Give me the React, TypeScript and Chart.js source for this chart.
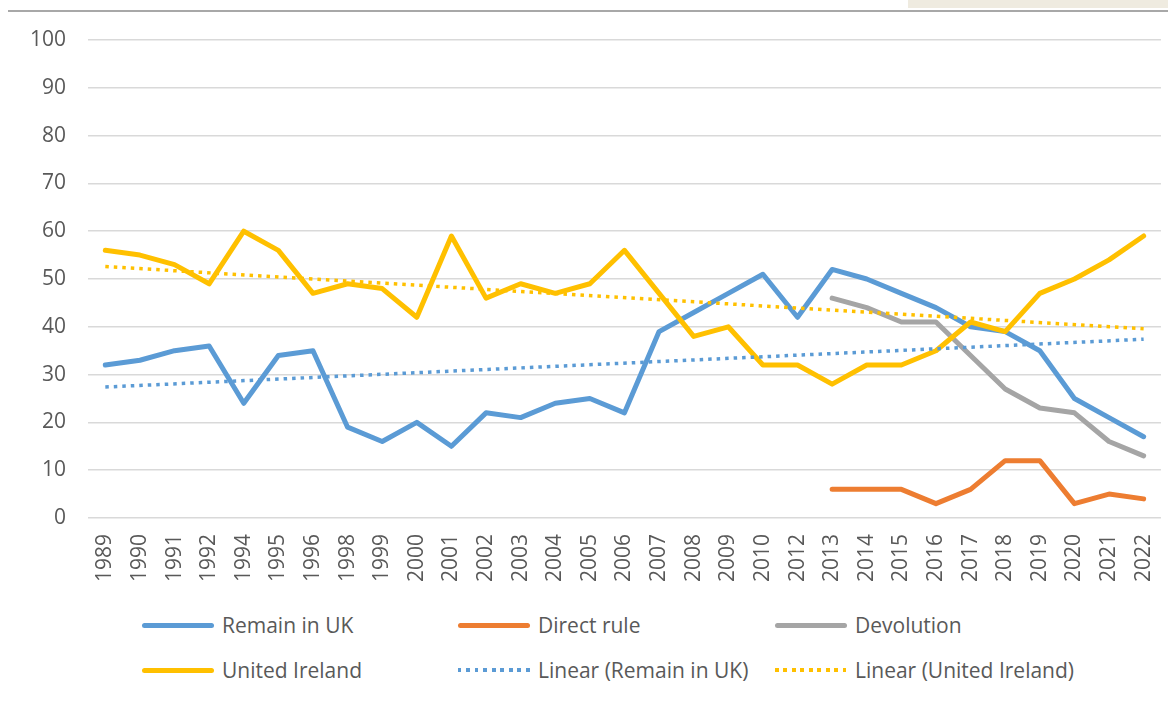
import React, { useEffect, useRef } from "react";
import { Chart, registerables } from "chart.js";

Chart.register(...registerables);

const years = [
  "1989", "1990", "1991", "1992", "1994", "1995", "1996", "1998", "1999", "2000",
  "2001", "2002", "2003", "2004", "2005", "2006", "2007", "2008", "2009", "2010",
  "2012", "2013", "2014", "2015", "2016", "2017", "2018", "2019", "2020", "2021", "2022",
];

const remainInUK = [
  32, 33, 35, 36, 24, 34, 35, 19, 16, 20,
  15, 22, 21, 24, 25, 22, 39, 43, 47, 51,
  42, 52, 50, 47, 44, 40, 39, 35, 25, 21, 17,
];

const unitedIreland = [
  56, 55, 53, 49, 60, 56, 47, 49, 48, 42,
  59, 46, 49, 47, 49, 56, 47, 38, 40, 32,
  32, 28, 32, 32, 35, 41, 39, 47, 50, 54, 59,
];

// 2013 - 2022 only
const directRuleYears = ["2013", "2014", "2015", "2016", "2017", "2018", "2019", "2020", "2021", "2022"];
const directRule = [6, 6, 6, 3, 6, 12, 12, 3, 5, 4];
const devolution = [46, 44, 41, 41, 34, 27, 23, 22, 16, 13];

// trend line end points
const trendRemain = [27.4, 37.4];
const trendIreland = [52.6, 39.6];

const yTicks = [0, 10, 20, 30, 40, 50, 60, 70, 80, 90, 100];

const BLUE = "#5b9bd5";
const ORANGE = "#ed7d31";
const GRAY = "#a5a5a5";
const YELLOW = "#ffc000";
const TEXT = "#595959";
const FONT = "'Open Sans', sans-serif";

function alignLate(vals: number[]): (number | null)[] {
  return years.map((y) => {
    const i = directRuleYears.indexOf(y);
    return i >= 0 ? vals[i] : null;
  });
}

function endPoints(pair: number[]): (number | null)[] {
  return years.map((_, i) => (i === 0 ? pair[0] : i === years.length - 1 ? pair[1] : null));
}

const legendItems = [
  { label: "Remain in UK", color: BLUE, dotted: false, x: 142, y: 625 },
  { label: "Direct rule", color: ORANGE, dotted: false, x: 458, y: 625 },
  { label: "Devolution", color: GRAY, dotted: false, x: 775, y: 625 },
  { label: "United Ireland", color: YELLOW, dotted: false, x: 142, y: 670 },
  { label: "Linear (Remain in UK)", color: BLUE, dotted: true, x: 458, y: 670 },
  { label: "Linear (United Ireland)", color: YELLOW, dotted: true, x: 775, y: 670 },
];

export default function App() {
  const ref = useRef<HTMLCanvasElement>(null);

  useEffect(() => {
    if (!ref.current) return;
    const solid = (label: string, data: (number | null)[], color: string) => ({
      label,
      data,
      borderColor: color,
      backgroundColor: color,
      borderWidth: 5,
      pointRadius: 0,
      tension: 0,
      borderJoinStyle: "round" as const,
      borderCapStyle: "round" as const,
      spanGaps: false,
    });
    const dotted = (label: string, data: (number | null)[], color: string) => ({
      label,
      data,
      borderColor: color,
      backgroundColor: color,
      borderWidth: 3.5,
      borderDash: [3.5, 5],
      pointRadius: 0,
      tension: 0,
      spanGaps: true,
    });
    const chart = new Chart(ref.current, {
      type: "line",
      data: {
        labels: years,
        datasets: [
          dotted("Linear (Remain in UK)", endPoints(trendRemain), BLUE),
          dotted("Linear (United Ireland)", endPoints(trendIreland), YELLOW),
          solid("United Ireland", unitedIreland, YELLOW),
          solid("Devolution", alignLate(devolution), GRAY),
          solid("Direct rule", alignLate(directRule), ORANGE),
          solid("Remain in UK", remainInUK, BLUE),
        ],
      },
      options: {
        animation: false,
        responsive: false,
        maintainAspectRatio: false,
        layout: { padding: { top: 40, left: 0, right: 10, bottom: 0 } },
        plugins: { legend: { display: false }, tooltip: { enabled: false } },
        scales: {
          x: {
            offset: true,
            grid: { display: false, drawTicks: false },
            border: { display: false },
            ticks: {
              autoSkip: false,
              maxRotation: 90,
              minRotation: 90,
              padding: 16,
              color: TEXT,
              font: { family: FONT, size: 21 },
            },
            afterFit: (scale: any) => {
              scale.height = 82;
            },
          },
          y: {
            min: 0,
            max: 100,
            afterBuildTicks: (scale: any) => {
              scale.ticks = yTicks.map((v) => ({ value: v }));
            },
            grid: { color: "#d9d9d9", lineWidth: 1.5, drawTicks: false },
            border: { display: false },
            ticks: {
              padding: 22,
              color: TEXT,
              font: { family: FONT, size: 21 },
            },
            afterFit: (scale: any) => {
              scale.width = 88;
            },
          },
        },
      },
    });
    return () => chart.destroy();
  }, []);

  return (
    <div
      style={{
        position: "fixed",
        left: 0,
        top: 0,
        width: 1168,
        height: 702,
        overflow: "hidden",
        background: "#ffffff",
        fontFamily: FONT,
      }}
    >
      <div style={{ position: "absolute", left: 908, top: 0, width: 260, height: 8, background: "#efebe0" }} />
      <div style={{ position: "absolute", left: 8, top: 10, width: 1160, height: 2, background: "#a8a8a8" }} />
      <canvas
        ref={ref}
        width={1185}
        height={600}
        style={{ position: "absolute", left: 0, top: 0, width: 1185, height: 600 }}
      />
      {legendItems.map((it) => (
        <div
          key={it.label}
          style={{
            position: "absolute",
            left: it.x,
            top: it.y - 14,
            height: 28,
            display: "flex",
            alignItems: "center",
            whiteSpace: "nowrap",
          }}
        >
          <div
            style={
              it.dotted
                ? {
                    width: 72,
                    height: 3.5,
                    backgroundImage: `repeating-linear-gradient(to right, ${it.color} 0px, ${it.color} 3.5px, transparent 3.5px, transparent 8.5px)`,
                  }
                : { width: 72, height: 5, borderRadius: 2.5, background: it.color }
            }
          />
          <span style={{ marginLeft: 8, fontSize: 21, color: TEXT, lineHeight: "28px" }}>{it.label}</span>
        </div>
      ))}
    </div>
  );
}
